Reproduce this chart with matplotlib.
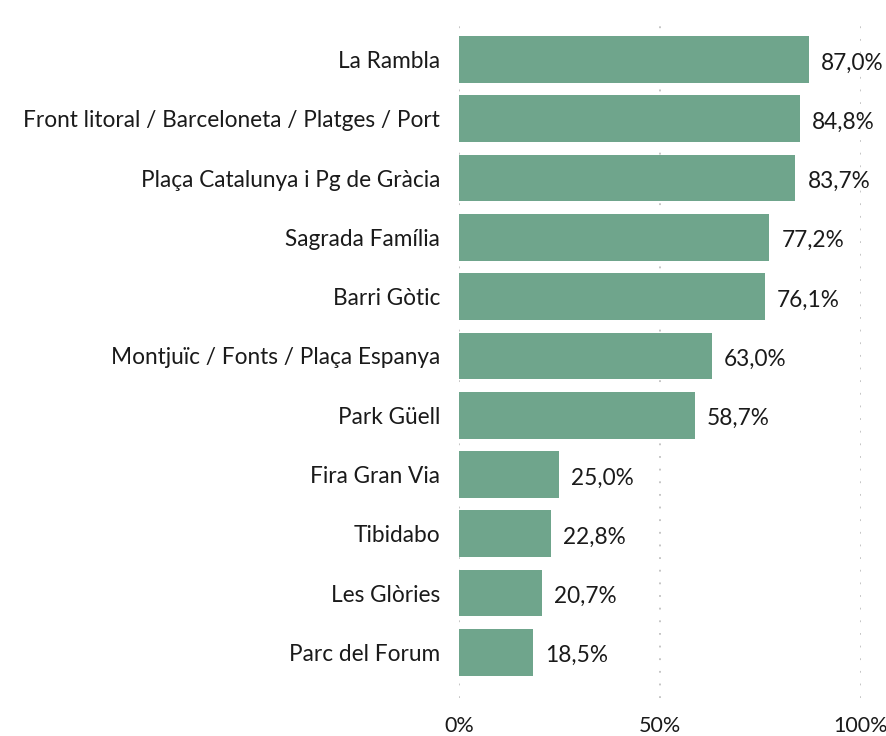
import matplotlib
matplotlib.use("Agg")
import matplotlib.pyplot as plt

zones = [
    "La Rambla",
    "Front litoral / Barceloneta / Platges / Port",
    "Plaça Catalunya i Pg de Gràcia",
    "Sagrada Família",
    "Barri Gòtic",
    "Montjuïc / Fonts / Plaça Espanya",
    "Park Güell",
    "Fira Gran Via",
    "Tibidabo",
    "Les Glòries",
    "Parc del Forum",
]
percent = [87.0, 84.8, 83.7, 77.2, 76.1, 63.0, 58.7, 25.0, 22.8, 20.7, 18.5]
ticks = [0, 50, 100]

plt.rcParams['font.family'] = ['Lato', 'DejaVu Sans']
fs = 16.3

fig = plt.figure(figsize=(8.87, 7.36), dpi=100)
ax = fig.add_axes([459 / 887, 1 - 698 / 736, 402 / 887, 680 / 736])

pos = list(range(len(zones)))
ax.barh(pos, percent, height=0.79, color="#6fa58c", zorder=2)

for y, v in zip(pos, percent):
    txt = f"{v:.1f}%".replace(".", ",")
    ax.annotate(txt, (v, y), xytext=(8.6, -2.5), textcoords="offset points",
                ha="left", va="center", fontsize=fs, color="#1a1a1a")

ax.set_xlim(0, 100)
ax.set_ylim(10.77, -0.7)
ax.set_yticks(pos)
ax.set_yticklabels(zones, fontsize=fs, color="#1a1a1a")
ax.set_xticks(ticks)
ax.set_xticklabels([f"{t}%" for t in ticks], fontsize=15.5, color="#1a1a1a")
ax.tick_params(length=0, axis="y", pad=13.5)
ax.tick_params(length=0, axis="x", pad=13)
ax.xaxis.grid(True, color="#c0c0c0", linestyle=(0, (1, 6)), linewidth=1.3, zorder=0)
for s in ax.spines.values():
    s.set_visible(False)

fig.savefig("out.png", dpi=100)
